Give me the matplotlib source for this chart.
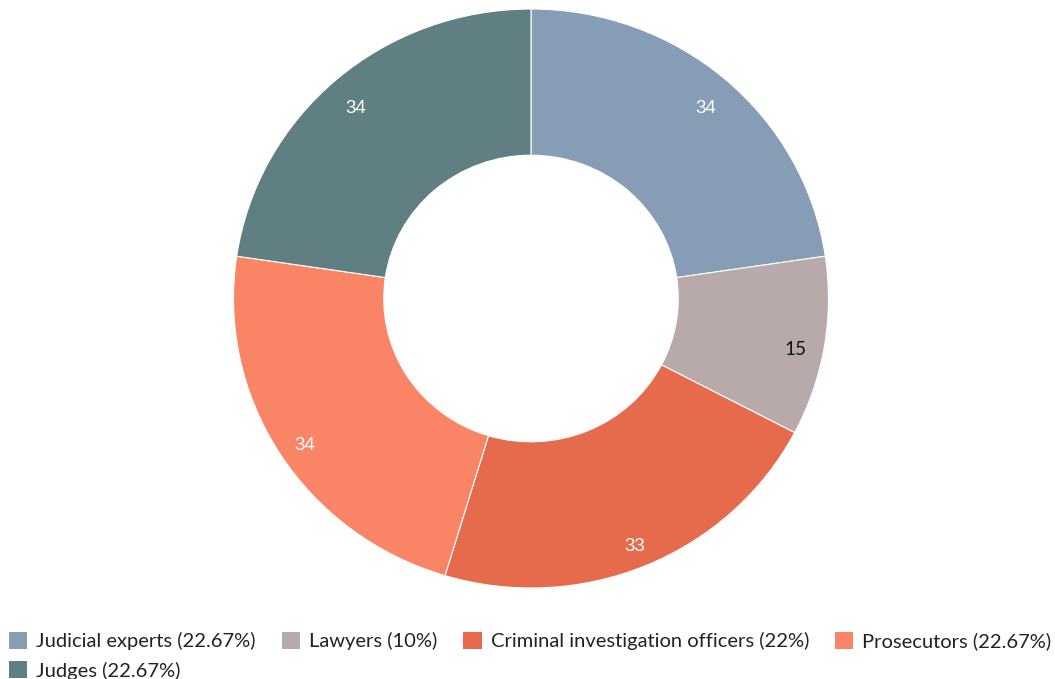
import matplotlib
matplotlib.use("Agg")
import matplotlib.pyplot as plt
import numpy as np

categories = ["Judicial experts", "Lawyers", "Criminal investigation officers", "Prosecutors", "Judges"]
values = [34, 15, 33, 34, 34]
percent_labels = ["22.67%", "10%", "22%", "22.67%", "22.67%"]
colors = ["#879db5", "#b8aaaa", "#e66b4d", "#f98466", "#607f82"]
label_colors = ["white", "#111111", "white", "white", "white"]

W, H = 1055, 679
fig = plt.figure(figsize=(W / 100, H / 100), dpi=100)
ax = fig.add_axes([233.5 / W, (H - 588) / H, 595 / W, 579 / H])

wedges, _ = ax.pie(values, colors=colors, startangle=90, counterclock=False,
                   radius=1.0, wedgeprops=dict(width=0.505, edgecolor="white", linewidth=0.8))
ax.set_xlim(-1, 1)
ax.set_ylim(-1, 1)
ax.set_aspect("auto")

total = sum(values)
cum = 0
for v, lc in zip(values, label_colors):
    mid = cum + v / 2
    ang = np.deg2rad(90 - 360 * mid / total)
    r = 0.9
    fam = ["Lato"] if lc != "white" else ["Liberation Sans"]
    ax.annotate(str(v), xy=(r * np.cos(ang), r * np.sin(ang)), xytext=(0, -5.5),
                textcoords="offset points", ha="center", va="center",
                color=lc, fontsize=13.5, family=fam)
    cum += v

labels = [f"{c} ({p})" for c, p in zip(categories, percent_labels)]
order = [0, 4, 1, 2, 3]
leg = fig.legend([wedges[i] for i in order], [labels[i] for i in order],
                 loc="upper left", bbox_to_anchor=(9 / W, (H - 632) / H),
                 ncol=4, frameon=False, prop=dict(family="Lato", size=14.5),
                 handlelength=0.9, handleheight=0.9, handletextpad=0.45,
                 columnspacing=1.3, labelspacing=0.55, borderpad=0, borderaxespad=0)
for h in leg.legend_handles:
    h.set_edgecolor("none")
for t in leg.get_texts():
    t.set_color("#222222")

fig.savefig("out.png", dpi=100)
